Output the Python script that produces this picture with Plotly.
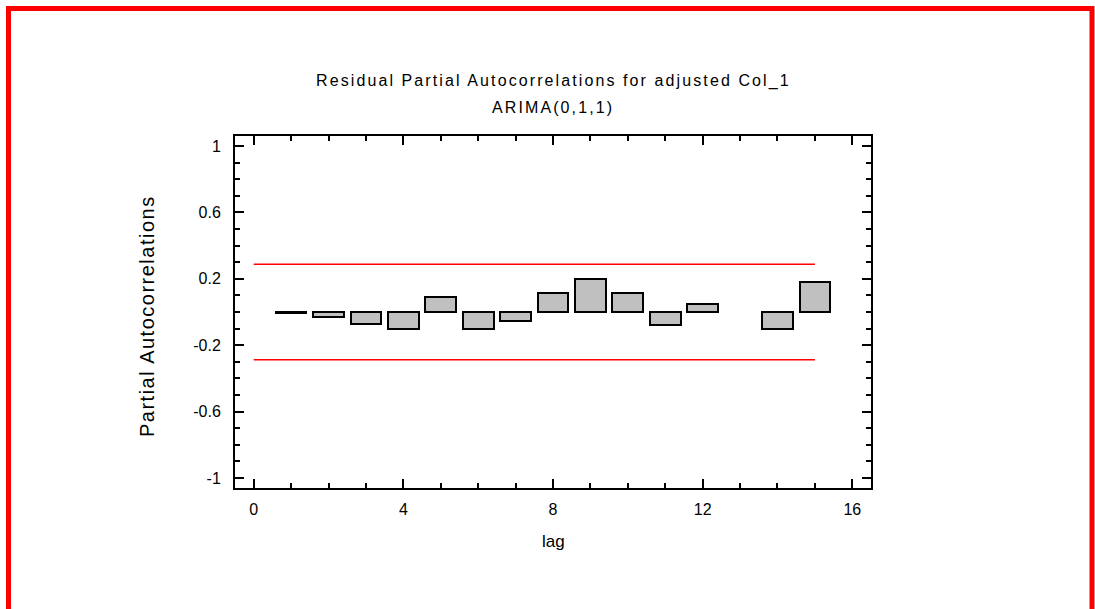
import plotly.graph_objects as go

# ---- data ----
lags = [1, 2, 3, 4, 5, 6, 7, 8, 9, 10, 11, 12, 13, 14, 15]
pacf = [-0.008, -0.028, -0.074, -0.102, 0.093, -0.103, -0.053, 0.117, 0.200,
        0.117, -0.077, 0.047, None, -0.103, 0.178]
limit_lags = [0, 1, 2, 3, 4, 5, 6, 7, 8, 9, 10, 11, 12, 13, 14, 15]
upper_limit = [0.288] * 16
lower_limit = [-0.288] * 16
x_tickvals = [0, 4, 8, 12, 16]
x_ticktext = ["0", "4", "8", "12", "16"]
y_tickvals = [1, 0.6, 0.2, -0.2, -0.6, -1]
y_ticktext = ["1", "0.6", "0.2", "-0.2", "-0.6", "-1"]
title_line1 = "Residual Partial Autocorrelations for adjusted Col_1"
title_line2 = "ARIMA(0,1,1)"
x_title = "lag"
y_title = "Partial Autocorrelations"

W, H = 1095, 609
L, R, T, B = 235, 224, 136, 121
PW, PH = W - L - R, H - T - B


def px_x(p):
    return (p - L) / PW


def px_y(p):
    return (H - B - p) / PH


FONT = "Liberation Sans, Arial, sans-serif"

fig = go.Figure()
fig.add_trace(go.Bar(x=lags, y=pacf, width=0.82,
                     marker=dict(color="#c0c0c0", line=dict(color="black", width=2)),
                     showlegend=False))
fig.add_trace(go.Scatter(x=limit_lags, y=upper_limit, mode="lines",
                         line=dict(color="#ff0000", width=1.6), showlegend=False))
fig.add_trace(go.Scatter(x=limit_lags, y=lower_limit, mode="lines",
                         line=dict(color="#ff0000", width=1.6), showlegend=False))

axis_common = dict(showline=True, linecolor="black", linewidth=2, mirror="ticks",
                   ticks="inside", ticklen=9, tickwidth=2, tickcolor="black",
                   showgrid=False, zeroline=False,
                   tickfont=dict(family=FONT, size=16, color="black"))

fig.update_xaxes(range=[-0.5, 16.5], tickvals=x_tickvals, ticktext=x_ticktext,
                 ticklabelstandoff=6,
                 minor=dict(dtick=1, ticklen=5, tickwidth=1.5, tickcolor="black", ticks="inside"),
                 **axis_common)
fig.update_yaxes(range=[-1.06, 1.06], tickvals=y_tickvals, ticktext=y_ticktext,
                 ticklabelstandoff=9,
                 minor=dict(tickvals=[round(-1 + 0.1 * i, 1) for i in range(21)],
                            ticklen=5, tickwidth=1.5, tickcolor="black", ticks="inside"),
                 **axis_common)

annotations = [
    dict(text='<span style="letter-spacing:2.1px">' + title_line1 + "</span>",
         x=0.5, y=px_y(81), xref="paper", yref="paper", showarrow=False,
         xanchor="center", yanchor="middle", font=dict(family=FONT, size=16, color="black")),
    dict(text='<span style="letter-spacing:2.1px">' + title_line2 + "</span>",
         x=0.5, y=px_y(108), xref="paper", yref="paper", showarrow=False,
         xanchor="center", yanchor="middle", font=dict(family=FONT, size=16, color="black")),
    dict(text=x_title, x=0.5, y=px_y(541), xref="paper", yref="paper", showarrow=False,
         xanchor="center", yanchor="middle", font=dict(family=FONT, size=17, color="black")),
    dict(text='<span style="letter-spacing:1.5px">' + y_title + "</span>",
         x=px_x(147), y=px_y(316), xref="paper", yref="paper", showarrow=False,
         textangle=-90, xanchor="center", yanchor="middle",
         font=dict(family=FONT, size=20, color="black")),
]

shapes = [dict(type="rect", xref="paper", yref="paper",
               x0=px_x(8.5), x1=px_x(1092), y0=px_y(650), y1=px_y(8.5),
               line=dict(color="#ff0000", width=5), fillcolor="rgba(0,0,0,0)", layer="above")]

fig.update_layout(width=W, height=H, margin=dict(l=L, r=R, t=T, b=B, pad=0),
                  paper_bgcolor="white", plot_bgcolor="white",
                  annotations=annotations, shapes=shapes, bargap=0,
                  font=dict(family=FONT, color="black"))

fig.write_html("out.html", config={"displayModeBar": False},
               post_script="document.body.style.margin='0';document.body.style.padding='0';")
